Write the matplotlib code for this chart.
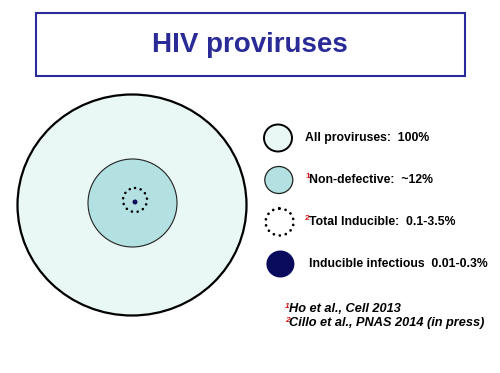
import matplotlib.pyplot as plt
from matplotlib.patches import Ellipse, Rectangle

# provirus groups (share of all proviruses) and legend labels
groups = ['All proviruses', 'Non-defective', 'Total Inducible', 'Inducible infectious']
labels = ['All proviruses:  100%', 'Non-defective:  ~12%', 'Total Inducible:  0.1-3.5%',
          'Inducible infectious  0.01-0.3%']
refs = ['', '1', '2', '']
citations = [('1', 'Ho et al., Cell 2013'), ('2', 'Cillo et al., PNAS 2014 (in press)')]
# drawn sizes of the nested circles (px on the slide)
widths = [229, 89, 24, 5]
heights = [221, 88, 24, 5]

fills = ['#e9f8f5', '#b3e0e1', 'none', '#0b0b5e']
edges = ['black', '#222222', 'black', '#0b0b5e']
lws = [1.6, 0.8, 1.9, 0]
styles = ['-', '-', (0, (0.01, 2.2)), '-']


def main():
    fig = plt.figure(figsize=(5, 3.73), dpi=100)
    ax = fig.add_axes([0, 0, 1, 1])
    ax.set_xlim(0, 500)
    ax.set_ylim(373, 0)
    ax.axis('off')

    # title box
    ax.add_patch(Rectangle((36, 13), 429, 63, fill=False, ec='#2a2a9c', lw=1.5))
    ax.text(250, 45, 'HIV proviruses', ha='center', va='center', fontsize=20,
            fontweight='bold', color='#2b2b98', family='Liberation Sans')

    # nested circles
    centres = [(132, 205), (132.5, 203), (135, 200), (135, 202)]
    for c, w, h, f, e, lw, ls in zip(centres, widths, heights, fills, edges, lws, styles):
        ax.add_patch(Ellipse(c, w, h, fc=f, ec=e, lw=lw, ls=ls, capstyle='round'))

    # legend
    ys = [138, 180, 222, 264]
    for i, (lab, r, y) in enumerate(zip(labels, refs, ys)):
        lw = [1.4, 0.9, 2.0, 0][i]
        ax.add_patch(Ellipse((278 + i * 0.8, y), 28, 27, fc=fills[i], ec=edges[i],
                             lw=lw, ls=styles[i], capstyle='round'))
        x0 = 305 if i < 3 else 309
        if r:
            ax.text(x0, y - 3, r, ha='left', va='center', fontsize=6,
                    fontweight='bold', color='#dd1111', family='Liberation Sans')
            x0 += 4
        ax.text(x0, y, lab, ha='left', va='center', fontsize=8.8, fontweight='bold',
                color='black', family='Liberation Sans')

    for (r, txt), y in zip(citations, [309, 323]):
        ax.text(285, y - 3, r, ha='left', va='center', fontsize=6, fontweight='bold',
                style='italic', color='#dd1111', family='Liberation Sans')
        ax.text(289, y, txt, ha='left', va='center', fontsize=9.2, fontweight='bold',
                style='italic', color='black', family='Liberation Sans')

    fig.savefig('out.png', dpi=100)


if __name__ == '__main__':
    main()
